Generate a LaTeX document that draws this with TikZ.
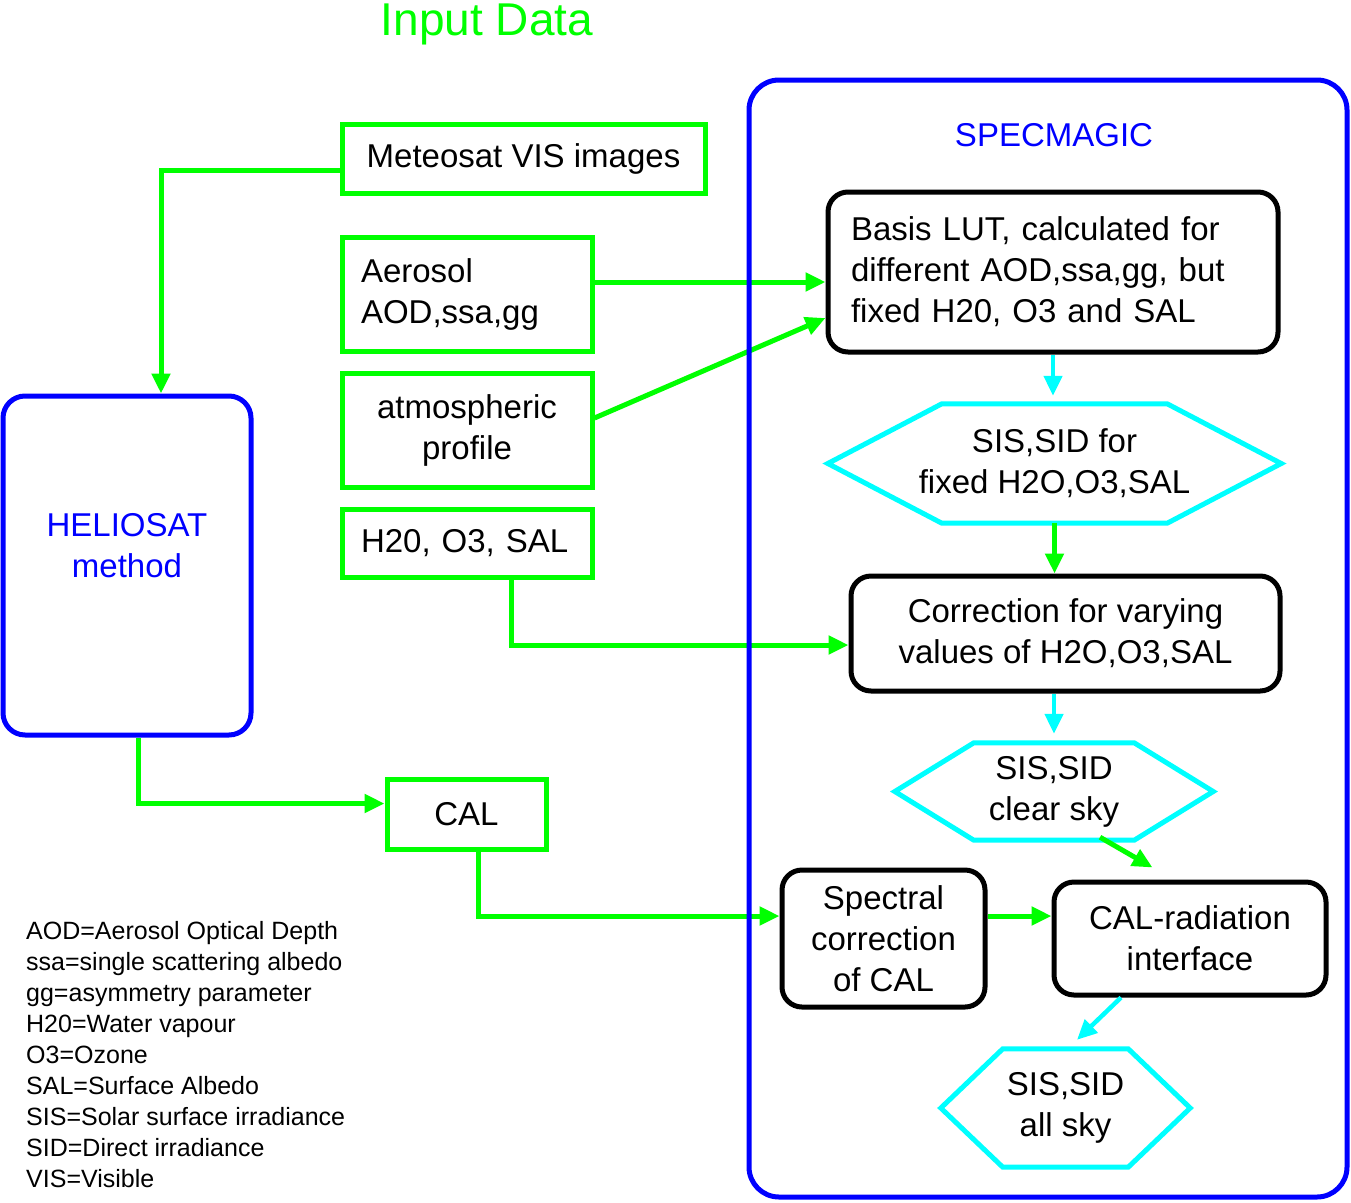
\documentclass[tikz,border=0pt]{standalone}
\usepackage{fontspec}
\setmainfont{Liberation Sans}
\usetikzlibrary{arrows.meta}
\definecolor{datagreen}{RGB}{0, 255, 0}
\definecolor{methodblue}{RGB}{0, 0, 255}
\definecolor{lutcyan}{RGB}{0, 255, 255}
\newcommand{\hexframe}[2]{%
  \draw[lutcyan, line width=5pt] (#1.west) -- ([xshift=#2]#1.north west) -- ([xshift=-#2]#1.north east)
    -- (#1.east) -- ([xshift=-#2]#1.south east) -- ([xshift=#2]#1.south west) -- cycle;}
\tikzset{
  txt/.style={font=\fontsize{33}{41}\selectfont},
  inbox/.style={txt, draw=datagreen, line width=5pt, inner sep=0pt, align=center},
  inleft/.style={inbox, text width=212pt, inner xsep=19pt, align=left},
  procbox/.style={txt, draw=black, line width=5pt, rounded corners=20pt, inner sep=0pt, align=center},
  hexbox/.style={txt, inner sep=0pt, align=center},
  flow/.style={datagreen, line width=5pt, -{Triangle[length=20pt,width=18pt]}},
  lutflow/.style={lutcyan, line width=4.5pt, -{Triangle[length=20pt,width=18pt]}}
}
\begin{document}
\begin{tikzpicture}[x=1pt, y=-1pt]
            \useasboundingbox (0,0) rectangle (1351,1202);
            % input data
            \node[anchor=base, text=datagreen, font=\fontsize{46}{50}\selectfont] (inputtitle) at (487,35) {Input Data};
            \node[inbox, minimum width=363pt, minimum height=69pt] (meteosat) at (523.5,158.5) {Meteosat VIS images};
            \node[inleft, minimum height=114pt] (aerosol) at (467,294) {Aerosol\\AOD,ssa,gg};
            \node[inbox, minimum width=250pt, minimum height=114pt] (atmos) at (467,430) {atmospheric\\profile};
            \node[inleft, minimum height=68pt] (h2o) at (467,543) {H20, O3, SAL};
            \node[inbox, minimum width=159pt, minimum height=70pt] (cal) at (466.5,814) {CAL};
            % heliosat
            \node[txt, draw=methodblue, text=methodblue, line width=5pt, rounded corners=22pt, align=center,
                  minimum width=248pt, minimum height=339pt] (heliosat) at (127,565.5) {HELIOSAT\\method\\\mbox{}};
            % specmagic
            \node[txt, text=methodblue] (spectitle) at (1054,135) {SPECMAGIC};
            \node[procbox, text width=404pt, inner xsep=23pt, align=left, minimum height=160pt] (basis) at (1053,272)
                 {Basis LUT, calculated for\\different AOD,ssa,gg, but\\fixed H20, O3 and SAL};
            \node[hexbox, minimum width=453pt, minimum height=119pt] (sisfix) at (1054.5,463.5) {SIS,SID for\\fixed H2O,O3,SAL};
            \node[procbox, minimum width=429pt, minimum height=115pt] (corr) at (1065.5,633.5) {Correction for varying\\values of H2O,O3,SAL};
            \node[hexbox, minimum width=318pt, minimum height=97pt] (sisclear) at (1054,791.5) {SIS,SID\\clear sky};
            \node[procbox, minimum width=203pt, minimum height=137pt] (spectral) at (883.5,938.5) {Spectral\\correction\\of CAL};
            \node[procbox, minimum width=272pt, minimum height=113pt] (calrad) at (1190,938.5) {CAL-radiation\\interface};
            \node[hexbox, minimum width=249pt, minimum height=118pt] (sisall) at (1065.5,1108) {SIS,SID\\all sky};
            \hexframe{sisfix}{114pt}
            \hexframe{sisclear}{79pt}
            \hexframe{sisall}{62pt}
            % legend
            \node[anchor=north west, inner sep=0pt, align=left, font=\fontsize{25}{31}\selectfont] (legend) at (26,921)
                 {AOD=Aerosol Optical Depth\\ssa=single scattering albedo\\gg=asymmetry parameter\\H20=Water vapour\\O3=Ozone\\SAL=Surface Albedo\\SIS=Solar surface irradiance\\SID=Direct irradiance\\VIS=Visible};
            % connectors
            \coordinate (aerout) at ([yshift=12pt]aerosol.east);
            \coordinate (specout) at ([yshift=22.5pt]spectral.east);
            \draw[flow] ([yshift=-11.5pt]meteosat.west) -| ([xshift=34pt]heliosat.north);
            \draw[flow] ([xshift=11pt]heliosat.south) |- ([yshift=10.5pt]cal.west);
            \draw[flow] (aerout) -- (aerout -| basis.west);
            \draw[flow] ([yshift=12pt]atmos.east) -- ([yshift=-46pt]basis.west);
            \draw[lutflow, shorten >=8pt] (basis.south) -- (basis.south |- sisfix.north);
            \draw[flow] (sisfix.south) -- (sisfix.south |- corr.north);
            \draw[flow] ([xshift=44pt]h2o.south) |- ([yshift=-11.5pt]corr.west);
            \draw[lutflow, shorten >=9pt] (corr.south -| sisclear.north) -- (sisclear.north);
            \draw[flow] ([xshift=46pt,yshift=3pt]sisclear.south) -- ([xshift=101pt,yshift=12pt]calrad.north west);
            \draw[flow] ([xshift=11.5pt]cal.south) |- ([yshift=22.5pt]spectral.west);
            \draw[flow] (specout) -- (specout -| calrad.west);
            \draw[lutflow] ([xshift=-69pt]calrad.south) -- ([xshift=11.5pt,yshift=9pt]sisall.north);
            % frame on top
            \node[draw=methodblue, line width=5pt, rounded corners=30pt, minimum width=598pt, minimum height=1117pt] (specmagic) at (1048,638.5) {};
            \end{tikzpicture}
\end{document}
